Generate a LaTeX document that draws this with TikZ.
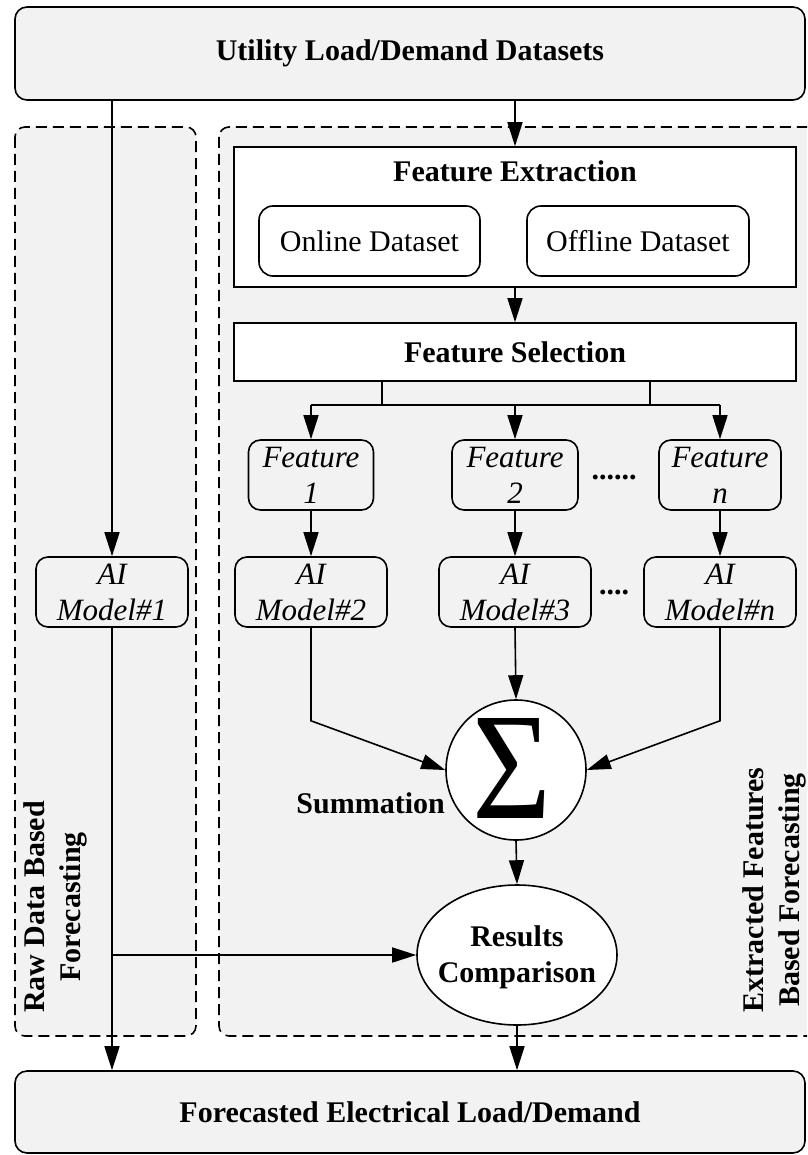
\documentclass[tikz,border=0pt]{standalone}
\usepackage{fontspec}
\setmainfont{Liberation Serif}
\usepackage{graphicx}
\usetikzlibrary{arrows.meta,shapes.geometric}
\definecolor{panel}{HTML}{F2F2F2}
\tikzset{
  basebox/.style={draw=black, line width=1.6pt, inner sep=0pt, align=center, font=\fontsize{30}{36}\selectfont},
  graybold/.style={basebox, fill=panel, rounded corners=12pt, font=\fontsize{30}{36}\selectfont\bfseries},
  whitebold/.style={basebox, fill=white, font=\fontsize{30}{36}\selectfont\bfseries},
  roundwhite/.style={basebox, fill=white, rounded corners=14pt},
  itbox/.style={basebox, fill=panel, rounded corners=12pt, font=\fontsize{31}{36}\selectfont\itshape},
  region/.style={draw=black, line width=1.6pt, dash pattern=on 11pt off 6pt, fill=panel, rounded corners=10pt},
  conn/.style={line width=1.6pt},
  arr/.style={conn, -{Triangle[length=24pt,width=15pt]}},
  lbl/.style={font=\fontsize{30}{36}\selectfont\bfseries, align=center, inner sep=0pt},
}
\begin{document}
\begin{tikzpicture}[x=1pt,y=-1pt]
\useasboundingbox (0,0) rectangle (807,1155);
\clip (0,0) rectangle (807,1155);
\fill[white] (0,0) rectangle (807,1155);
% dashed regions
\draw[region] (15,127) rectangle (196,1036);
\draw[region] (219,127) rectangle (840,1036);
% top and bottom boxes
\node[graybold, minimum width=790pt, minimum height=93pt] (top) at (410,53.5) {Utility Load/Demand Datasets};
\node[graybold, minimum width=790pt, minimum height=82pt] (bot) at (410,1112) {Forecasted Electrical Load/Demand};
% feature extraction
\node[basebox, fill=white, minimum width=562pt, minimum height=140pt] (fe) at (515,217) {};
\node[lbl] (fetitle) at (515,171) {Feature Extraction};
\node[roundwhite, minimum width=221pt, minimum height=70pt] (online) at (369.5,241) {Online Dataset};
\node[roundwhite, minimum width=222pt, minimum height=70pt] (offline) at (638,241) {Offline Dataset};
% feature selection
\node[whitebold, minimum width=562pt, minimum height=58pt] (fs) at (515,352) {Feature Selection};
% features
\node[itbox, minimum width=125pt, minimum height=70pt] (f1) at (311,475) {Feature\\1};
\node[itbox, minimum width=126pt, minimum height=70pt] (f2) at (515,475) {Feature\\2};
\node[itbox, minimum width=122pt, minimum height=70pt] (fn) at (720,475) {Feature\\\textit{n}};
\node[lbl] (dots1) at (614,477) {......};
% AI models
\node[itbox, minimum width=152pt, minimum height=70pt] (ai1) at (112,592) {AI\\Model\#1};
\node[itbox, minimum width=152pt, minimum height=70pt] (ai2) at (311,592) {AI\\Model\#2};
\node[itbox, minimum width=152pt, minimum height=70pt] (ai3) at (515,592) {AI\\Model\#3};
\node[itbox, minimum width=152pt, minimum height=70pt] (ain) at (720,592) {AI\\Model\#\textit{n}};
\node[lbl] (dots2) at (614,592) {....};
% summation
\node[circle, draw=black, line width=1.6pt, fill=white, minimum size=140pt, inner sep=0pt] (sig) at (516,770) {};
\node[inner sep=0pt] (sigsym) at (512,768) {\resizebox{79pt}{100pt}{Σ}};
\node[lbl, anchor=base east] (summ) at (445,813) {Summation};
% results
\node[ellipse, draw=black, line width=1.6pt, fill=white, minimum width=200pt, minimum height=140pt, inner sep=0pt] (res) at (517,955) {};
\node[lbl] (restxt) at (517,957) {Results\\Comparison};
% side labels
\node[lbl, rotate=90] (rawlbl) at (55,907) {Raw Data Based\\Forecasting};
\node[lbl, rotate=90] (extlbl) at (774,890) {Extracted Features\\Based Forecasting};
% connectors
\draw[arr] (fe.north |- top.south) -- (fe.north);
\draw[arr] (fe.south) -- (fs.north);
\coordinate (hb) at (515,405);
\draw[conn] ([xshift=-133pt]fs.south) -- ([xshift=-133pt]fs.south |- hb);
\draw[conn] ([xshift=135pt]fs.south) -- ([xshift=135pt]fs.south |- hb);
\draw[conn] (f1.north |- hb) -- (fn.north |- hb);
\draw[arr] (f1.north |- hb) -- (f1.north);
\draw[arr] (f2.north |- hb) -- (f2.north);
\draw[arr] (fn.north |- hb) -- (fn.north);
\draw[arr] (f1.south) -- (ai2.north);
\draw[arr] (f2.south) -- (ai3.north);
\draw[arr] (fn.south) -- (ain.north);
\draw[arr] (ai1.north |- top.south) -- (ai1.north);
\draw[arr] (ai1.south) -- (bot.north -| ai1.south);
\draw[arr] (ai1.south |- res.west) -- (res.west);
\draw[arr] (ai2.south) -- ++(0,93) -- (sig.west);
\draw[arr] (ain.south) -- ++(0,93) -- (sig.east);
\draw[arr] (ai3.south) -- (sig.north);
\draw[arr] (sig.south) -- (res.north);
\draw[arr] (res.south) -- (bot.north -| res.south);
\end{tikzpicture}
\end{document}
